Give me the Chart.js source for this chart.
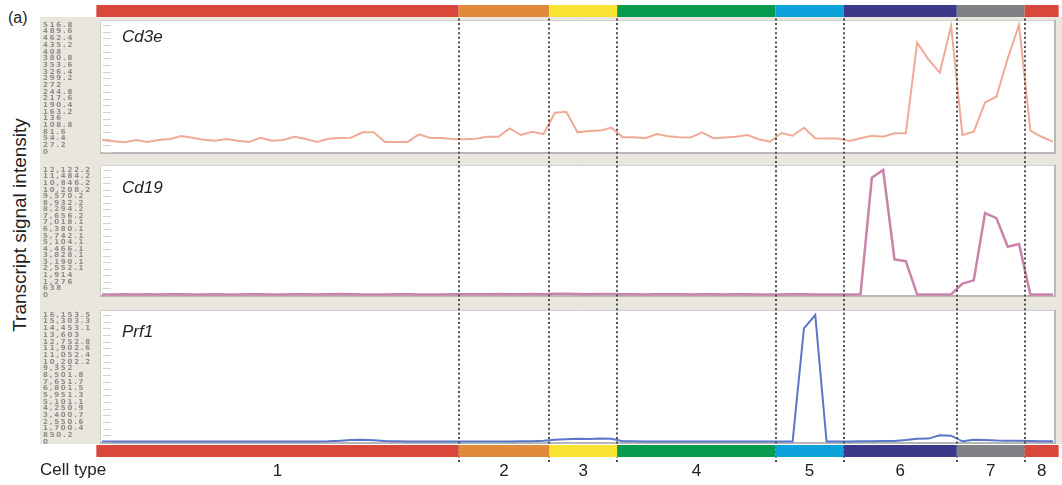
<!DOCTYPE html>
<html>
<head>
<meta charset="utf-8">
<script src="https://cdn.jsdelivr.net/npm/chart.js@4.4.1/dist/chart.umd.min.js"></script>
<style>
  html, body { margin: 0; padding: 0; background: #fff; }
  body { width: 1062px; height: 485px; position: relative; overflow: hidden;
         font-family: "Liberation Sans", Arial, sans-serif; color: #222; }
  #beige { position: absolute; left: 40px; top: 17px; width: 1022px; height: 427px; background: #e9e6de; }
  canvas { position: absolute; left: 40px; }
  #p1 { top: 0; }
  #p2 { top: 159px; }
  #p3 { top: 304px; }
  #tag { position: absolute; left: 8px; top: 10px; font-size: 16px; line-height: 1; }
  #ylab { position: absolute; left: 19px; top: 225px; transform: translate(-50%, -50%) rotate(-90deg);
          font-size: 19px; line-height: 1; white-space: nowrap; }
  #xlab { position: absolute; left: 40px; top: 461px; font-size: 17px; line-height: 1; }
</style>
</head>
<body>
<div id="beige"></div>
<canvas id="p1" width="1022" height="159"></canvas>
<canvas id="p2" width="1022" height="145"></canvas>
<canvas id="p3" width="1022" height="181"></canvas>
<div id="tag">(a)</div>
<div id="ylab">Transcript signal intensity</div>
<div id="xlab">Cell type</div>
<script>
(function () {
  // cell type groups, in sample order
  const cellTypes = ['1', '2', '3', '4', '5', '6', '7', '8'];
  const groupSizes = [32, 8, 6, 14, 6, 10, 6, 3];
  const groupColors = ['#d8473a', '#e2893a', '#f8e431', '#079c4d', '#0da2dc', '#3b3889', '#7f8184', '#d8473a'];

  // signal per sample (85 samples)
  const cd3eValues = [
    49, 44, 40, 49, 41, 49, 53, 65, 58, 50, 46, 53, 46, 41, 58, 46, 49, 62, 53, 41, 54, 57, 58, 80, 80, 41, 41, 41, 72, 57, 57, 53,
    52, 54, 62, 62, 96, 69, 82, 73,
    160, 164, 80, 85, 87, 99,
    60, 60, 56, 73, 64, 60, 59, 80, 56, 59, 62, 69, 52, 42,
    77, 66, 99, 56, 55, 55,
    45, 56, 66, 62, 76, 76, 445, 377, 323, 513,
    69, 83, 202, 225, 381, 516.8,
    87, 62, 42
  ];
  const cd19Values = [
    60, 55, 70, 50, 65, 60, 80, 70, 55, 60, 75, 60, 50, 65, 70, 60, 55, 80, 65, 60, 70, 90, 75, 60, 55, 60, 70, 65, 60, 55, 60, 70,
    80, 70, 75, 90, 80, 70, 85, 75,
    110, 120, 90, 80, 85, 90,
    70, 65, 60, 75, 70, 65, 60, 70, 65, 60, 70, 75, 60, 55,
    60, 70, 80, 60, 55, 60,
    50, 60, 11380, 12122.2, 3450, 3280, 60, 50, 50, 60,
    1100, 1420, 7950, 7460, 4680, 4940,
    50, 40, 40
  ];
  const prf1Values = [
    60, 55, 60, 65, 60, 55, 60, 70, 65, 60, 55, 60, 65, 60, 55, 60, 70, 65, 60, 70, 90, 150, 250, 280, 220, 120, 80, 70, 65, 60, 55, 60,
    60, 65, 70, 75, 70, 80, 90, 150,
    300, 350, 420, 380, 450, 420,
    100, 80, 70, 75, 70, 65, 70, 75, 70, 65, 70, 65, 60, 60,
    55, 50, 14460, 16153.5, 50, 60,
    60, 80, 100, 120, 130, 250, 420, 430, 850, 800,
    90, 300, 260, 180, 160, 150,
    120, 100, 100
  ];

  // y tick labels as printed, bottom to top
  const cd3eTicks = ['0', '27.2', '54.4', '81.6', '108.8', '136', '163.2', '190.4', '217.6', '244.8',
    '272', '299.2', '326.4', '353.6', '380.8', '408', '435.2', '462.4', '489.6', '516.8'];
  const cd19Ticks = ['0', '638', '1,276', '1,914', '2,552.1', '3,190.1', '3,828.1', '4,466.1', '5,104.1', '5,742.1',
    '6,380.1', '7,018.1', '7,656.2', '8,294.2', '8,932.2', '9,570.2', '10,208.2', '10,846.2', '11,484.2', '12,122.2'];
  const prf1Ticks = ['0', '850.2', '1,700.4', '2,550.6', '3,400.7', '4,250.9', '5,101.1', '5,951.3', '6,801.5', '7,651.7',
    '8,501.8', '9,352', '10,202.2', '11,052.4', '11,902.6', '12,752.8', '13,603', '14,453.1', '15,303.3', '16,153.5'];

  const panels = [
    { id: 'p1', gene: 'Cd3e', values: cd3eValues, ticks: cd3eTicks, color: '#efab95', width: 2,
      pageTop: 0, padTop: 25, padBottom: 7, titleDy: 17, bar: 'top' },
    { id: 'p2', gene: 'Cd19', values: cd19Values, ticks: cd19Ticks, color: '#c984ab', width: 2.5,
      pageTop: 159, padTop: 11, padBottom: 9, titleDy: 23, bar: null },
    { id: 'p3', gene: 'Prf1', values: prf1Values, ticks: prf1Ticks, color: '#5a76c8', width: 2,
      pageTop: 304, padTop: 11, padBottom: 43, titleDy: 22, bar: 'bottom' }
  ];

  function toNumber(label) {
    return Number(label.replace(/,/g, ''));
  }

  function groupEdges(x) {
    const edges = [];
    let n = 0;
    groupSizes.forEach(s => { edges.push(x.getPixelForValue(n - 0.5)); n += s; });
    edges.push(x.getPixelForValue(n - 0.5));
    return edges;
  }

  // white panel box, inner tick marks; tick labels get the wide spacing
  const panelBox = {
    id: 'panelBox',
    beforeDraw(chart) {
      const { ctx, chartArea: a, scales: { y } } = chart;
      ctx.save();
      const l = a.left - 2, t = a.top - 5, r = a.right + 3, b = a.bottom + 2;
      ctx.fillStyle = '#ffffff';
      ctx.fillRect(l, t, r - l, b - t);
      ctx.strokeStyle = '#cfcfcf';
      ctx.lineWidth = 1;
      ctx.beginPath();
      ctx.moveTo(l + 0.5, b); ctx.lineTo(l + 0.5, t + 0.5); ctx.lineTo(r, t + 0.5);
      ctx.stroke();
      ctx.strokeStyle = '#b8b8b8';
      ctx.lineWidth = 2;
      ctx.beginPath();
      ctx.moveTo(l, b - 1); ctx.lineTo(r - 1, b - 1); ctx.lineTo(r - 1, t);
      ctx.stroke();
      ctx.strokeStyle = '#d2d2d2';
      ctx.lineWidth = 1;
      y.ticks.forEach(tk => {
        const py = Math.round(y.getPixelForValue(tk.value)) + 0.5;
        ctx.beginPath();
        ctx.moveTo(a.left + 1, py);
        ctx.lineTo(a.left + 9, py);
        ctx.stroke();
      });
      ctx.restore();
      ctx.letterSpacing = '1.8px';
    },
    beforeDatasetsDraw(chart) {
      chart.ctx.letterSpacing = '0px';
    }
  };

  const geneTitle = {
    id: 'geneTitle',
    afterDatasetsDraw(chart, args, opts) {
      const { ctx, chartArea: a } = chart;
      ctx.save();
      ctx.font = 'italic 17px "Liberation Sans", Arial, sans-serif';
      ctx.fillStyle = '#222';
      ctx.textBaseline = 'alphabetic';
      ctx.fillText(opts.text, a.left + 20, a.top + opts.dy);
      ctx.restore();
    }
  };

  const cellTypeBars = {
    id: 'cellTypeBars',
    afterDraw(chart, args, opts) {
      const { ctx, chartArea: a, scales: { x } } = chart;
      const edges = groupEdges(x);
      ctx.save();
      // dotted separators, in phase across the stacked canvases
      ctx.beginPath();
      ctx.rect(0, 17 - opts.pageTop, chart.width, 445);
      ctx.clip();
      ctx.strokeStyle = '#4d4d4d';
      ctx.lineWidth = 2;
      ctx.setLineDash([2, 2.6]);
      edges.slice(1, -1).forEach(px => {
        const xx = Math.round(px);
        ctx.beginPath();
        ctx.moveTo(xx, -opts.pageTop);
        ctx.lineTo(xx, 462 - opts.pageTop);
        ctx.stroke();
      });
      ctx.restore();

      if (!opts.bar) return;
      ctx.save();
      const by = opts.bar === 'top' ? a.top - 20 : a.bottom + 3;
      groupColors.forEach((c, k) => {
        ctx.fillStyle = c;
        ctx.fillRect(edges[k], by, edges[k + 1] - edges[k], 12);
      });
      if (opts.bar === 'bottom') {
        ctx.font = '17px "Liberation Sans", Arial, sans-serif';
        ctx.fillStyle = '#222';
        ctx.textAlign = 'center';
        ctx.textBaseline = 'alphabetic';
        cellTypes.forEach((name, k) => {
          ctx.fillText(name, (edges[k] + edges[k + 1]) / 2, a.bottom + 34);
        });
      }
      ctx.restore();
    }
  };

  panels.forEach(p => {
    const tickValues = p.ticks.map(toNumber);
    const labelByValue = new Map(tickValues.map((v, i) => [v, p.ticks[i]]));
    new Chart(document.getElementById(p.id), {
      type: 'line',
      data: {
        datasets: [{
          data: p.values.map((v, i) => ({ x: i, y: v })),
          borderColor: p.color,
          borderWidth: p.width,
          pointRadius: 0,
          tension: 0,
          clip: 4
        }]
      },
      options: {
        responsive: false,
        animation: false,
        devicePixelRatio: 1,
        layout: { padding: { left: 3, right: 9, top: p.padTop, bottom: p.padBottom } },
        plugins: {
          legend: { display: false },
          tooltip: { enabled: false },
          geneTitle: { text: p.gene, dy: p.titleDy },
          cellTypeBars: { pageTop: p.pageTop, bar: p.bar }
        },
        scales: {
          x: { type: 'linear', min: 0, max: p.values.length - 1, display: false },
          y: {
            position: 'left',
            min: 0,
            max: tickValues[tickValues.length - 1],
            afterBuildTicks: s => { s.ticks = tickValues.map(v => ({ value: v })); },
            afterFit: s => { s.width = 59; },
            grid: { display: false, drawTicks: false },
            border: { display: false },
            ticks: {
              autoSkip: false,
              crossAlign: 'far',
              padding: 0,
              color: '#8d8d8d',
              font: { family: '"DejaVu Sans", sans-serif', size: 7, weight: 'bold' },
              callback: v => labelByValue.get(v)
            }
          }
        }
      },
      plugins: [panelBox, geneTitle, cellTypeBars]
    });
  });
})();
</script>
</body>
</html>
